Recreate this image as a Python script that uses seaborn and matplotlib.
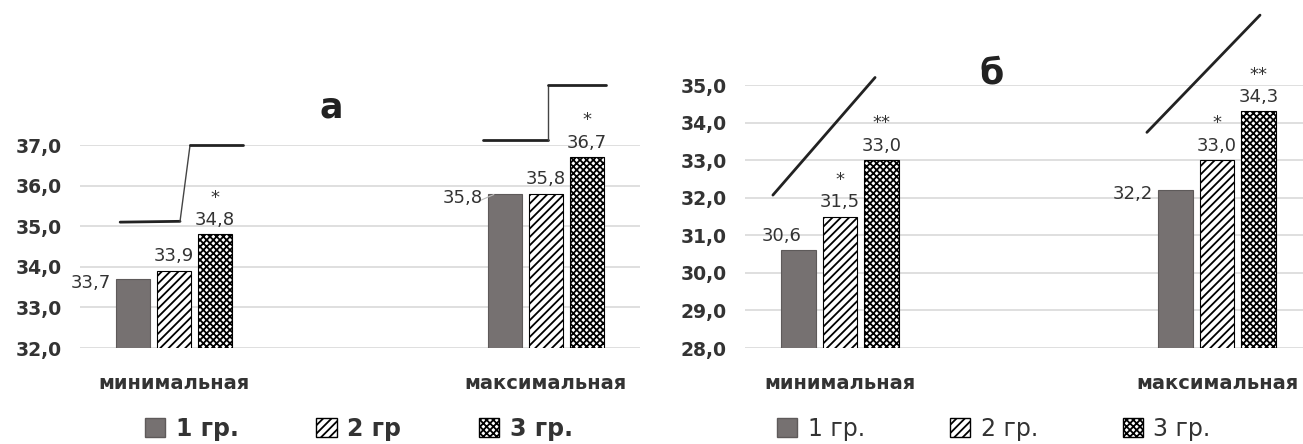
import numpy as np
import pandas as pd
import seaborn as sns
import matplotlib.pyplot as plt
from matplotlib.patches import Patch
from matplotlib.ticker import FuncFormatter

categories = ['минимальная', 'максимальная']
groups_a = ['1 гр.', '2 гр', '3 гр.']
groups_b = ['1 гр.', '2 гр.', '3 гр.']
a_gr1 = [33.7, 35.8]
a_gr2 = [33.9, 35.8]
a_gr3 = [34.8, 36.7]
b_gr1 = [30.6, 32.2]
b_gr2 = [31.5, 33.0]
b_gr3 = [33.0, 34.3]
a_stars = [['', ''], ['', ''], ['*', '*']]
b_stars = [['', ''], ['*', '*'], ['**', '**']]

sns.set_theme(style='white')
plt.rcParams['font.family'] = ['DejaVu Sans']
plt.rcParams['hatch.linewidth'] = 1.3

bar_styles = [dict(facecolor='#767171', edgecolor='#5e5a5a', hatch=None),
              dict(facecolor='white', edgecolor='black', hatch='////'),
              dict(facecolor='white', edgecolor='black', hatch='xxxxx')]
txt_col = '#333333'


def comma(v):
    return f'{v:.1f}'.replace('.', ',')


def make_df(groups, g1, g2, g3):
    return pd.DataFrame({'cat': categories * 3,
                         'grp': np.repeat(groups, 2),
                         'val': g1 + g2 + g3})


def draw(ax, df, groups, stars, label_side, ylim, step):
    sns.barplot(data=df, x='cat', y='val', hue='grp', order=categories,
                hue_order=groups, width=0.33, gap=0.17, saturation=1,
                palette=['#767171', 'white', 'white'], legend=False, ax=ax)
    for i, cont in enumerate(ax.containers):
        for j, rect in enumerate(cont):
            st = bar_styles[i]
            rect.set_facecolor(st['facecolor'])
            rect.set_edgecolor(st['edgecolor'])
            rect.set_linewidth(0.8)
            if st['hatch']:
                rect.set_hatch(st['hatch'])
            v = rect.get_height()
            xc = rect.get_x() + rect.get_width() / 2
            side = label_side[i][j]
            if side == 'left':
                ax.annotate(comma(v), (rect.get_x(), v), xytext=(-4, -3),
                            textcoords='offset points', ha='right', va='center',
                            fontsize=13, color=txt_col, annotation_clip=False)
            else:
                dx = -12 if side == 'topleft' else 0
                ax.annotate(comma(v), (xc, v), xytext=(dx, 4),
                            textcoords='offset points', ha='center', va='bottom',
                            fontsize=13, color=txt_col, annotation_clip=False)
            if stars[i][j]:
                ax.annotate(stars[i][j], (xc, v), xytext=(0, 20),
                            textcoords='offset points', ha='center', va='bottom',
                            fontsize=13, color=txt_col, annotation_clip=False)
    ax.set_ylim(*ylim)
    ax.set_yticks(np.arange(ylim[0], ylim[1] + 0.01, step))
    ax.yaxis.set_major_formatter(FuncFormatter(lambda v, p: comma(v)))
    ax.grid(axis='y', color='#d9d9d9', linewidth=1.2)
    ax.set_axisbelow(True)
    for s in ax.spines.values():
        s.set_visible(False)
    ax.tick_params(axis='y', length=0, pad=13, labelsize=13.5, labelcolor=txt_col)
    ax.tick_params(axis='x', length=0, pad=19, labelsize=14, labelcolor=txt_col)
    ax.set_xlabel('')
    ax.set_ylabel('')


fig = plt.figure(figsize=(13.03, 4.44), dpi=100)
ax1 = fig.add_axes([80 / 1303, 96 / 444, 560 / 1303, 203 / 444])
ax2 = fig.add_axes([745 / 1303, 96 / 444, 558 / 1303, 263 / 444])

draw(ax1, make_df(groups_a, a_gr1, a_gr2, a_gr3), groups_a, a_stars,
     [['left', 'left'], ['top', 'top'], ['top', 'top']], (32, 37), 1)
ax1.set_xlim(-0.253, 1.253)
draw(ax2, make_df(groups_b, b_gr1, b_gr2, b_gr3), groups_b, b_stars,
     [['topleft', 'left'], ['top', 'top'], ['top', 'top']], (28, 35), 1)
ax2.set_xlim(-0.252, 1.228)

# significance brackets (panel a) and trend lines (panel б)
ax1.plot([-0.145, 0.016], [35.1, 35.12], color='#222222', lw=2, clip_on=False)
ax1.plot([0.016, 0.043], [35.12, 37.0], color='#444444', lw=1, clip_on=False)
ax1.plot([0.043, 0.185], [37.0, 37.0], color='#222222', lw=2, clip_on=False)
ax1.plot([0.831, 1.005], [37.12, 37.12], color='#222222', lw=2, clip_on=False)
ax1.plot([1.005, 1.005], [37.12, 38.48], color='#444444', lw=1, clip_on=False)
ax1.plot([1.005, 1.161], [38.48, 38.48], color='#222222', lw=2, clip_on=False)
ax2.plot([-0.178, 0.093], [32.07, 35.2], color='#222222', lw=2, clip_on=False)
ax2.plot([0.814, 1.114], [33.74, 36.86], color='#222222', lw=2, clip_on=False)
# thin leader from the 35,8 label to its bar
ax1.plot([0.82, 0.86], [35.62, 35.78], color='#bbbbbb', lw=0.8, clip_on=False)

fig.text(331 / 1303, 1 - 107 / 444, 'а', fontsize=25, fontweight='bold',
         ha='center', va='center', color='#222222')
fig.text(992 / 1303, 1 - 73 / 444, 'б', fontsize=25, fontweight='bold',
         ha='center', va='center', color='#222222')

# bold tick labels (set after all limits so the final tick texts keep it)
for ax in (ax1, ax2):
    for t in ax.get_yticklabels() + ax.get_xticklabels():
        t.set_fontweight('bold')


def handles(groups):
    return [Patch(facecolor=st['facecolor'], edgecolor=st['edgecolor'],
                  hatch=st['hatch'], label=g) for st, g in zip(bar_styles, groups)]


leg_a = fig.legend(handles=handles(groups_a), loc='center left', bbox_to_anchor=(145 / 1303, 1 - 429 / 444),
                   ncol=3, frameon=False, borderpad=0, borderaxespad=0, handlelength=0.85,
                   handleheight=0.85, handletextpad=0.45, columnspacing=3.3,
                   prop=dict(size=17, weight='bold'))
leg_b = fig.legend(handles=handles(groups_b), loc='center left', bbox_to_anchor=(777 / 1303, 1 - 429 / 444),
                   ncol=3, frameon=False, borderpad=0, borderaxespad=0, handlelength=0.85,
                   handleheight=0.85, handletextpad=0.45, columnspacing=3.6, prop=dict(size=17))
for t in leg_a.get_texts() + leg_b.get_texts():
    t.set_color(txt_col)

fig.savefig('out.png', dpi=100)
